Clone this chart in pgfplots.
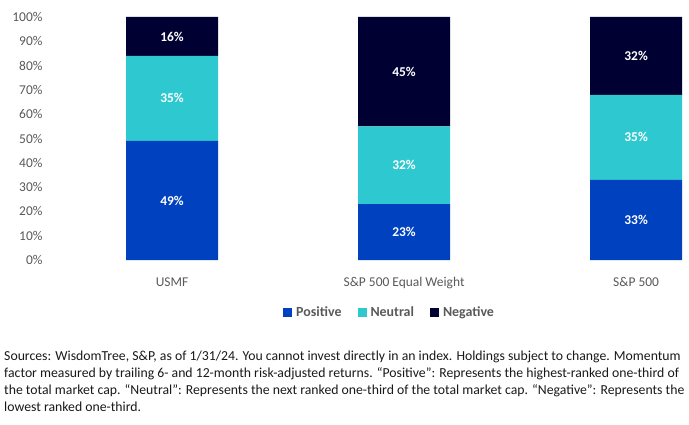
\documentclass[border=0pt]{standalone}
\usepackage{fontspec}
\setmainfont{Carlito}
\usepackage{pgfplots}
\pgfplotsset{compat=1.18}
\usepackage{pgfplotstable}
\definecolor{cpos}{HTML}{0041C0}
\definecolor{cneu}{HTML}{2EC9D0}
\definecolor{cneg}{HTML}{000033}
\definecolor{tgray}{HTML}{595959}
\pgfplotstableread{
x pos neu neg
0 49 35 16
1 23 32 45
2 33 35 32
}\data
\pgfplotstableread{
x y label
0 24.5 49
0 66.5 35
0 92 16
1 11.5 23
1 39 32
1 77.5 45
2 16.5 33
2 50.5 35
2 84 32
}\labels
\begin{document}
\begin{tikzpicture}[x=1bp,y=1bp]
\useasboundingbox (0,0) rectangle (689,424);
\pgfplotsset{common/.style={scale only axis, width=633bp, height=243bp,
  at={(56bp,164bp)}, anchor=south west, xmin=-0.5, xmax=2.228, ymin=0, ymax=100}}
\begin{axis}[common, ybar stacked, bar width=92bp,
  xtick={0,1,2}, xticklabels={USMF, S\&P 500 Equal Weight, S\&P 500},
  ytick={0,10,...,100},
  yticklabels={0\%,10\%,20\%,30\%,40\%,50\%,60\%,70\%,80\%,90\%,100\%},
  axis line style={draw=none}, tick style={draw=none},
  ticklabel style={font=\fontsize{13.5}{15}\selectfont, text=tgray},
  yticklabel style={xshift=-10bp},
  xticklabel style={yshift=-14bp},
  legend style={at={(0.527,-0.217)}, anchor=center, draw=none, fill=none,
    legend columns=3, font=\bfseries\fontsize{14}{15}\selectfont, text=tgray,
    /tikz/every odd column/.style={column sep=2bp},
    /tikz/every even column/.style={column sep=14bp}},
  legend image code/.code={\fill[#1] (0bp,-4.5bp) rectangle (9bp,4.5bp);},
]
\addplot[fill=cpos, draw=none] table[x=x,y=pos]{\data};
\addplot[fill=cneu, draw=none] table[x=x,y=neu]{\data};
\addplot[fill=cneg, draw=none] table[x=x,y=neg]{\data};
\legend{Positive,Neutral,Negative}
\end{axis}
\begin{axis}[common, hide axis]
\addplot[draw=none, mark=none, nodes near coords={\pgfplotspointmeta\%},
  point meta=explicit symbolic, nodes near coords align={center},
  every node near coord/.append style={text=white, font=\bfseries\fontsize{13.5}{15}\selectfont}]
  table[x=x,y=y,meta=label]{\labels};
\end{axis}
\node[anchor=north west, inner sep=0pt, align=left, font=\fontsize{13.8}{17}\selectfont, text={black!90}] at (4,73) {Sources: WisdomTree, S\&P, as of 1/31/24. You cannot invest directly in an index. Holdings subject to change. Momentum\\
factor measured by trailing 6- and 12-month risk-adjusted returns. “Positive”: Represents the highest-ranked one-third of\\
the total market cap. “Neutral”: Represents the next ranked one-third of the total market cap. “Negative”: Represents the\\
lowest ranked one-third.};
\end{tikzpicture}
\end{document}
